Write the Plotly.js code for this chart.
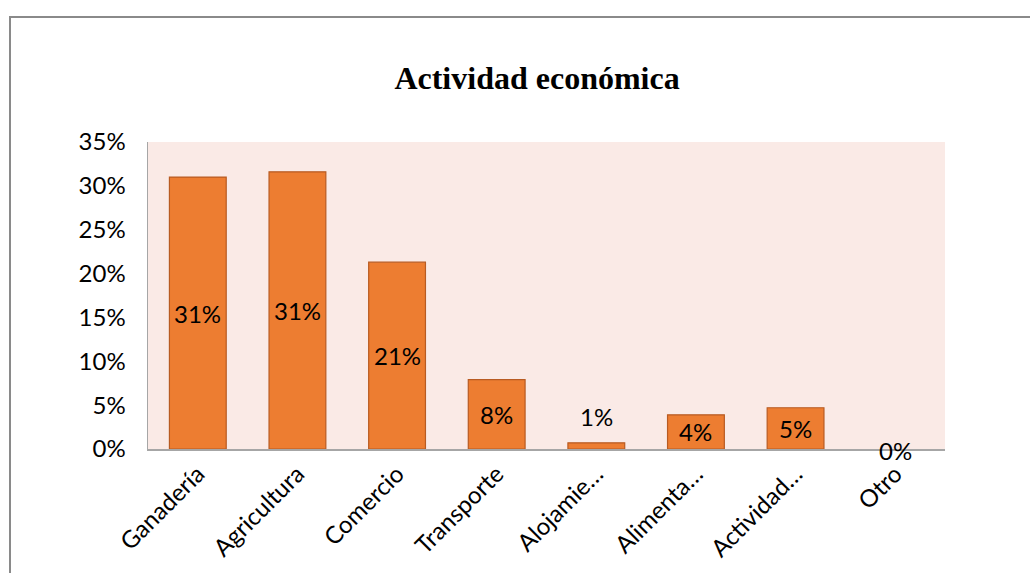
<!DOCTYPE html>
<html>
<head>
<meta charset="utf-8">
<script src="https://cdn.plot.ly/plotly-3.0.1.min.js"></script>
<style>
  html, body { margin: 0; padding: 0; background: #fff; }
  #wrap { position: relative; width: 1030px; height: 573px; overflow: hidden; }
  #chart { width: 1030px; height: 573px; }
  #frame { position: absolute; left: 9px; top: 16px; width: 2000px; height: 2000px;
           border-top: 2px solid #8a8a8a; border-left: 2px solid #8a8a8a; pointer-events: none; box-sizing: border-box; }
</style>
</head>
<body>
<div id="wrap">
  <div id="chart"></div>
  <div id="frame"></div>
</div>
<script>
const categories = ["Ganadería", "Agricultura", "Comercio", "Transporte", "Alojamiento", "Alimentación", "Actividades", "Otro"];
const tickLabels = ["Ganadería", "Agricultura", "Comercio", "Transporte", "Alojamie…", "Alimenta…", "Actividad…", "Otro"];
const values = [0.310, 0.316, 0.213, 0.079, 0.007, 0.039, 0.047, 0.000];
const valueLabels = ["31%", "31%", "21%", "8%", "1%", "4%", "5%", "0%"];
const yTicks = [0, 0.05, 0.10, 0.15, 0.20, 0.25, 0.30, 0.35];
const yTickLabels = ["0%", "5%", "10%", "15%", "20%", "25%", "30%", "35%"];

const labelFont = { family: "Lato, 'Open Sans', sans-serif", size: 24, color: "#000" };

const annotations = categories.map((c, i) => {
  const v = values[i];
  const a = { x: c, xref: "x", yref: "y", text: valueLabels[i], showarrow: false, font: labelFont };
  if (v >= 0.03) { a.y = v / 2; a.yanchor = "middle"; }
  else if (v > 0) { a.y = v; a.yanchor = "bottom"; a.yshift = 10; }
  else { a.y = 0; a.yanchor = "middle"; a.yshift = -1; }
  return a;
});

const trace = {
  type: "bar",
  x: categories,
  y: values,
  width: 0.57,
  marker: { color: "#ED7D31", line: { color: "#B85B22", width: values.map(v => v > 0 ? 1.2 : 0) } },
  hoverinfo: "x+y"
};

const layout = {
  width: 1030, height: 573,
  margin: { l: 148, r: 85, t: 142, b: 124 },
  paper_bgcolor: "rgba(0,0,0,0)",
  plot_bgcolor: "#FAEAE6",
  showlegend: false,
  title: {
    text: "<b>Actividad económica</b>",
    font: { family: "'Liberation Serif', 'Times New Roman', serif", size: 32, color: "#000" },
    xref: "container", yref: "container", x: 0.5214, y: 1 - 78 / 573,
    xanchor: "center", yanchor: "middle"
  },
  xaxis: {
    type: "category",
    tickvals: categories,
    ticktext: tickLabels,
    tickangle: -45,
    tickfont: labelFont,
    showline: true, linecolor: "#a6a6a6", linewidth: 1.5,
    showgrid: false, ticks: "", zeroline: false
  },
  yaxis: {
    range: [0, 0.35],
    tickvals: yTicks,
    ticktext: yTickLabels,
    tickfont: labelFont,
    showline: true, linecolor: "#a6a6a6", linewidth: 1.5,
    showgrid: false, zeroline: false, ticks: "",
    ticklabelstandoff: 16
  },
  annotations: annotations
};

Plotly.newPlot("chart", [trace], layout, { displayModeBar: false, staticPlot: true });
</script>
</body>
</html>
